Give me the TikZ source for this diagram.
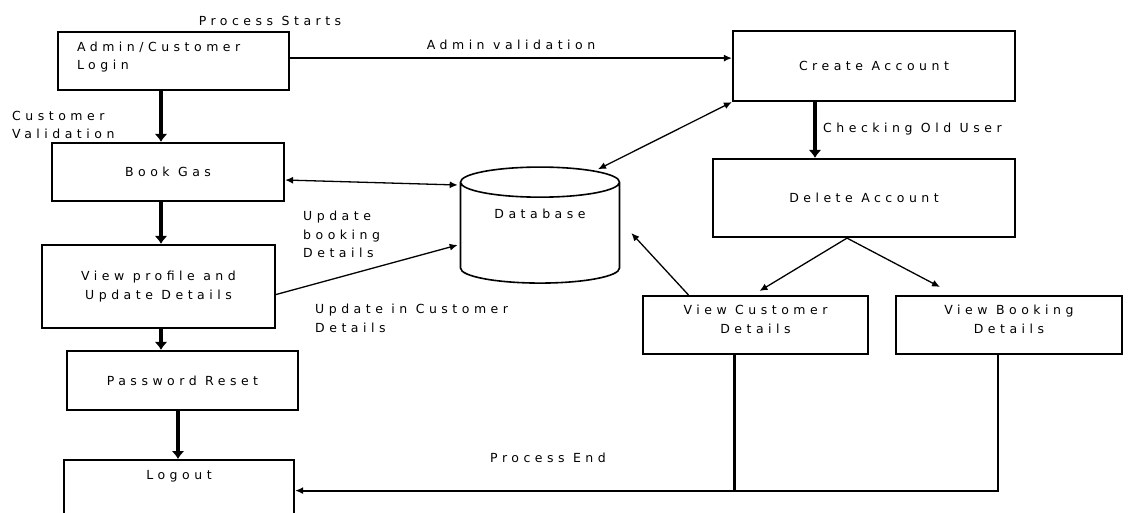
\documentclass[tikz,border=0pt]{standalone}
\usepackage{fontspec}
\setmainfont{DejaVu Sans}[LetterSpace=36]
\usepackage{tikz}
\usetikzlibrary{arrows.meta,positioning,shapes.geometric}

\begin{document}
\begin{tikzpicture}[x=1pt,y=-1pt,font=\fontsize{12.5}{18.5}\selectfont,
  bx/.style={draw,line width=2.2pt,align=center,inner sep=0pt},
  lbl/.style={inner sep=0pt,align=left},
  e/.style={-{Latex[length=8pt,width=7pt]},line width=1.3pt},
  ee/.style={{Latex[length=8pt,width=7pt]}-{Latex[length=8pt,width=7pt]},line width=1.3pt},
  te/.style={-{Latex[length=8pt,width=13pt]},line width=3.5pt}]
  \useasboundingbox (0,0) rectangle (1133,512);
  % left column
  \node[bx,anchor=north,minimum width=231,align=left,text width=193,
        text height=9pt,text depth=29pt,inner ysep=10pt] (login) at (173.5,31)
        {Admin/Customer\\Login};
  \node[bx,minimum width=232,minimum height=58] (book) at (168,172) {Book Gas};
  \node[bx,minimum width=233,minimum height=83] (prof) at (158.5,286.5)
        {View profile and\\Update Details};
  \node[bx,minimum width=231,minimum height=59] (pwd) at (182.5,380.5) {Password Reset};
  \node[bx,anchor=north,minimum width=230,text height=9pt,text depth=52pt,
        inner ysep=10pt] (logout) at (179,459) {Logout};
  % database
  \node[cylinder,shape border rotate=90,draw,line width=1.6pt,aspect=0.33,
        minimum width=159,minimum height=116,inner sep=0pt,
        text height=9pt,text depth=38pt] (db) at (540,233) {Database};
  % right side
  \node[bx,minimum width=282,minimum height=70] (create) at (874,66) {Create Account};
  \node[bx,minimum width=302,minimum height=78] (del) at (864,198) {Delete Account};
  \node[bx,anchor=north,minimum width=225,text height=28pt,text depth=12pt,
        inner ysep=9pt] (vc) at (755.5,295) {View Customer\\Details};
  \node[bx,anchor=north,minimum width=226,text height=28pt,text depth=12pt,
        inner ysep=9pt] (vb) at (1009,295) {View Booking\\Details};
  % labels
  \node[lbl,anchor=base] (pstart) at (270,25) {Process Starts};
  \node[lbl,anchor=north west] (cval) at (12,111) {Customer\\Validation};
  \node[lbl,anchor=north west] (upbook) at (303,211) {Update\\booking\\Details};
  \node[lbl,anchor=north west] (upcust) at (315,304) {Update in Customer\\Details};
  \node[lbl,anchor=base west] (chk) at (823,132) {Checking Old User};
  \node[lbl,anchor=base west] (pend) at (490,462) {Process End};
  % connectors
  \draw[te] (login.south -| 161,0) -- (book.north -| 161,0);
  \draw[te] (book.south -| 161,0) -- (prof.north -| 161,0);
  \draw[te] (prof.south -| 161,0) -- (pwd.north -| 161,0);
  \draw[te] (pwd.south -| 178,0) -- (logout.north -| 178,0);
  \draw[e] ([yshift=3pt]login.east) -- node[lbl,above=8pt] (aval) {Admin validation}
        ([yshift=3pt]login.east -| create.west);
  \draw[ee] ([yshift=-8pt]book.east) -- ([xshift=-2pt,yshift=48pt]db.west);
  \draw[e] ([yshift=-8pt]prof.east) -- ([xshift=-2pt,yshift=-12pt]db.west);
  \draw[ee] ([xshift=58pt,yshift=-3pt]db.north) -- (create.south west);
  \draw[te] (create.south -| 815,0) -- (del.north -| 815,0);
  \draw[e] ([xshift=-17pt]del.south) -- ([xshift=4pt,yshift=4pt]vc.north);
  \draw[e] ([xshift=-17pt]del.south) -- ([xshift=-69pt,yshift=8pt]vb.north);
  \draw[e] ([xshift=-67pt]vc.north) -- ([xshift=11pt,yshift=0pt]db.east);
  \coordinate (pe) at ([yshift=10pt]logout.east);
  \draw[line width=2.2pt] ([xshift=-21pt]vc.south) -- ([xshift=-21pt]vc.south |- pe);
  \draw[e,line width=2pt] ([xshift=-11pt]vb.south) |- (pe);
\end{tikzpicture}
\end{document}
